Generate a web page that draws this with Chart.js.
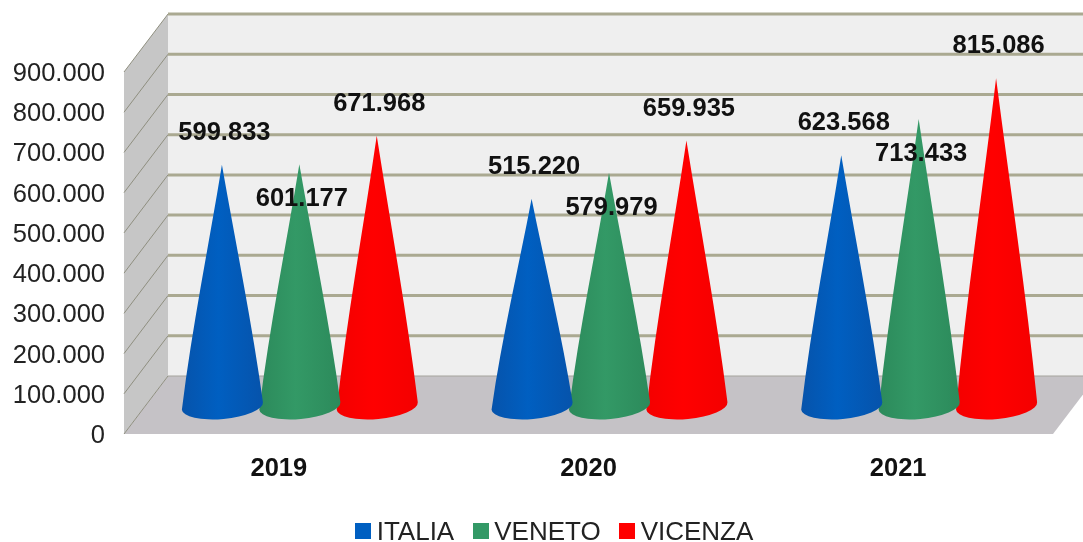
<!DOCTYPE html>
<html>
<head>
<meta charset="utf-8">
<style>
  html, body { margin: 0; padding: 0; background: #fff; }
  canvas { display: block; }
</style>
<script src="https://cdn.jsdelivr.net/npm/chart.js@4/dist/chart.umd.min.js"></script>
</head>
<body>
<canvas id="chart" width="1083" height="542"></canvas>
<script>
const years = ['2019', '2020', '2021'];
const italia = [599833, 515220, 623568];
const veneto = [601177, 579979, 713433];
const vicenza = [671968, 659935, 815086];

const font = 'Liberation Sans, Arial, sans-serif';
const depthX = 44;   // how far the back wall sits from the front of the box
const depthY = 58;
const coneRise = 28; // cones stand in the middle of the floor
const coneShift = 21;

const fmt = v => String(v).replace(/\B(?=(\d{3})+$)/g, '.');

// legend swatch as an image, lets the text sit closer than boxWidth would
function swatch(color) {
  const c = document.createElement('canvas');
  c.width = 16;
  c.height = 20; // empty strip below lifts the square to the text
  const g = c.getContext('2d');
  g.fillStyle = color;
  g.fillRect(0, 0, 16, 16);
  return c;
}

// side wall, floor and back wall of the fake 3D box
const box3d = {
  id: 'box3d',
  afterLayout(chart) {
    // legend is centred a bit right of the page centre and sits low
    chart.legend.left += 31.5;
    chart.legend.right += 31.5;
    chart.legend.top += 14;
    chart.legend.bottom += 14;
  },
  beforeDatasetsDraw(chart) {
    const { ctx, chartArea: a, scales: { y } } = chart;
    const top = y.getPixelForValue(900000);
    const bot = y.getPixelForValue(0);
    ctx.save();
    ctx.fillStyle = '#efefef';
    ctx.fillRect(a.left + depthX, top - depthY, 1083 - a.left - depthX, bot - top);

    ctx.fillStyle = '#c6c6c6';
    ctx.beginPath();
    ctx.moveTo(a.left, top);
    ctx.lineTo(a.left + depthX, top - depthY);
    ctx.lineTo(a.left + depthX, bot - depthY);
    ctx.lineTo(a.left, bot);
    ctx.fill();

    ctx.fillStyle = '#c5c2c6';
    ctx.beginPath();
    ctx.moveTo(a.left, bot);
    ctx.lineTo(a.left + depthX, bot - depthY);
    ctx.lineTo(a.right + depthX, bot - depthY);
    ctx.lineTo(a.right, bot);
    ctx.fill();

    y.ticks.forEach(t => {
      const py = y.getPixelForValue(t.value);
      ctx.strokeStyle = '#8f8f80';
      ctx.lineWidth = 1;
      ctx.beginPath();
      ctx.moveTo(a.left, py);
      ctx.lineTo(a.left + depthX, py - depthY);
      ctx.stroke();
      ctx.strokeStyle = t.value === 0 ? '#a5a39c' : '#aaa991';
      ctx.lineWidth = t.value === 0 ? 1 : 3;
      ctx.beginPath();
      ctx.moveTo(a.left + depthX, py - depthY);
      ctx.lineTo(1083, py - depthY);
      ctx.stroke();
    });
    ctx.restore();
  },
  // swap each bar for a cone standing on its position
  beforeDatasetDraw(chart, args) {
    const { ctx } = chart;
    const ds = chart.data.datasets[args.index];
    args.meta.data.forEach(el => {
      const cx = el.x + coneShift;
      const tipY = el.y - coneRise;
      const baseY = el.base - coneRise;
      const rx = el.width / 2 + 2;
      const tilt = -0.09;
      const h = baseY - tipY;
      const bulge = 3; // sides swell a little near the base
      const rightX = cx + rx * Math.cos(tilt);
      const rightY = baseY + rx * Math.sin(tilt);
      const g = ctx.createLinearGradient(cx - rx, 0, cx + rx, 0);
      g.addColorStop(0, ds.shade);
      g.addColorStop(0.45, ds.backgroundColor);
      g.addColorStop(1, ds.shade);
      ctx.save();
      ctx.fillStyle = g;
      ctx.beginPath();
      ctx.moveTo(cx - 0.5, tipY);
      ctx.bezierCurveTo(cx + rx / 3, tipY + h / 3, cx + rx * 2 / 3 + bulge, tipY + h * 2 / 3, rightX, rightY);
      ctx.ellipse(cx, baseY, rx, 13, tilt, 0, Math.PI);
      ctx.bezierCurveTo(cx - rx * 2 / 3 - bulge, tipY + h * 2 / 3, cx - rx / 3, tipY + h / 3, cx - 0.5, tipY);
      ctx.closePath();
      ctx.fill();
      ctx.restore();
    });
    return false;
  },
  afterDatasetsDraw(chart) {
    const { ctx } = chart;
    ctx.save();
    ctx.font = 'bold 25.5px ' + font;
    ctx.fillStyle = '#111';
    ctx.textAlign = 'center';
    ctx.textBaseline = 'middle';
    chart.data.datasets.forEach((ds, i) => {
      chart.getDatasetMeta(i).data.forEach((el, j) => {
        ctx.fillText(fmt(ds.data[j]), el.x + coneShift + 2, el.y - coneRise + ds.labelGap);
      });
    });
    ctx.restore();
  }
};

new Chart(document.getElementById('chart'), {
  type: 'bar',
  data: {
    labels: years,
    datasets: [
      { label: 'ITALIA', data: italia, backgroundColor: '#005fc1', shade: '#0653ab', labelGap: -32 },
      { label: 'VENETO', data: veneto, backgroundColor: '#339966', shade: '#2c8a5b', labelGap: 35 },
      { label: 'VICENZA', data: vicenza, backgroundColor: '#ff0000', shade: '#f40000', labelGap: -32 }
    ]
  },
  options: {
    responsive: false,
    animation: false,
    categoryPercentage: 0.75,
    barPercentage: 1,
    layout: { padding: { top: 72, right: 30 } },
    plugins: {
      tooltip: { enabled: false },
      legend: {
        position: 'bottom',
        labels: {
          usePointStyle: true,
          boxWidth: 1,
          padding: 26,
          color: '#222',
          font: { family: font, size: 26 },
          generateLabels(chart) {
            return chart.data.datasets.map((ds, i) => ({
              text: ds.label,
              fontColor: '#222',
              pointStyle: swatch(ds.backgroundColor),
              datasetIndex: i
            }));
          }
        }
      }
    },
    scales: {
      x: {
        grid: { display: false },
        border: { display: false },
        ticks: {
          color: '#111',
          padding: 12,
          font: { family: font, size: 25.5, weight: 'bold' }
        },
        afterFit: s => { s.height = 46; }
      },
      y: {
        min: 0,
        max: 900000,
        grid: { display: false },
        border: { display: false },
        afterFit: s => { s.width = 124; },
        ticks: {
          stepSize: 100000,
          color: '#222',
          padding: 11,
          labelOffset: 2,
          font: { family: font, size: 25.5 },
          callback: v => fmt(v)
        }
      }
    }
  },
  plugins: [box3d]
});
</script>
</body>
</html>
